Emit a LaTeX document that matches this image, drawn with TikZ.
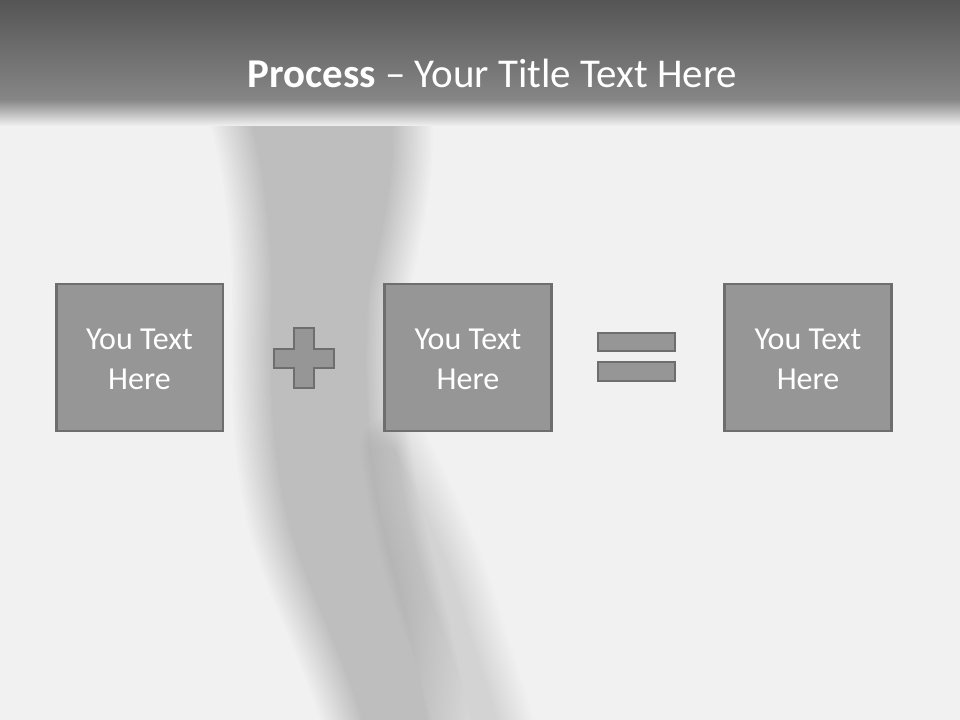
\documentclass[tikz,border=0pt]{standalone}
\usepackage{fontspec}
\setmainfont{Carlito}
\definecolor{boxfill}{HTML}{969696}
\definecolor{boxline}{HTML}{6E6E6E}
\definecolor{bgbody}{HTML}{F1F1F1}
\definecolor{hdtop}{HTML}{555555}
\definecolor{hdbot}{HTML}{868686}
\begin{document}
\begin{tikzpicture}[x=0.75pt,y=-0.75pt,
  stepbox/.style={draw=boxline, fill=boxfill, line width=1.9pt, minimum width=124.9pt, minimum height=109.9pt, inner sep=0pt},
  steptext/.style={text=white, align=center, inner sep=0pt, font=\fontsize{24}{30}\selectfont},
  signshape/.style={draw=boxline, fill=boxfill, line width=1.8pt, line join=miter},
  titletext/.style={text=white, font=\fontsize{30.7}{36}\selectfont, anchor=base},
  blurlayer/.style={fill=black, draw=black, line join=round}]
\useasboundingbox (0,0) rectangle (960,720);
% background
\fill[bgbody] (0,0) rectangle (960,720);
% blurred shadow figure: main body
\foreach \w in {0,5,...,80}{
  \begin{scope}[transparency group, opacity=0.0105]
  \path[blurlayer, line width=\w*0.75pt]
    (248,110) -- (392,110)
    .. controls (397,170) and (382,230) .. (369,290)
    .. controls (362,360) and (367,450) .. (382,520)
    .. controls (397,580) and (417,650) .. (429,730)
    -- (365,730)
    .. controls (343,650) and (303,580) .. (288,520)
    .. controls (270,450) and (270,360) .. (272,300)
    .. controls (272,240) and (265,170) .. cycle;
  \end{scope}
}
% second leg (lighter)
\foreach \w in {0,5,...,70}{
  \begin{scope}[transparency group, opacity=0.006]
  \path[blurlayer, line width=\w*0.75pt]
    (395,450) .. controls (420,500) and (450,560) .. (466,620)
    .. controls (478,660) and (492,700) .. (500,730)
    -- (475,730)
    .. controls (460,680) and (445,640) .. (433,610)
    .. controls (415,560) and (402,500) .. cycle;
  \end{scope}
}
% header band
\shade[top color=hdtop, bottom color=hdbot] (0,0) rectangle (960,100);
\shade[top color=hdbot, bottom color=bgbody] (0,99.5) rectangle (960,126);
% title
\node[titletext] (title) at (492.5,88) {\textbf{Process} – Your Title Text Here};
% boxes
\node[stepbox] (b1) at (139.5,357.5) {};
\node[stepbox] (b2) at (468,357.5) {};
\node[stepbox] (b3) at (808,357.5) {};
\node[steptext] (t1) at ([yshift=-1.5pt]b1.center) {You Text\\Here};
\node[steptext] (t2) at ([yshift=-1.5pt]b2.center) {You Text\\Here};
\node[steptext] (t3) at ([yshift=-1.5pt]b3.center) {You Text\\Here};
% plus sign
\draw[signshape] (294,328) -- (314,328) -- (314,349) -- (334,349) -- (334,368) -- (314,368) -- (314,388) -- (294,388) -- (294,368) -- (274,368) -- (274,349) -- (294,349) -- cycle;
% equals sign
\draw[signshape] (598,333) rectangle (675,351);
\draw[signshape] (598,362) rectangle (675,381);
\end{tikzpicture}
\end{document}
